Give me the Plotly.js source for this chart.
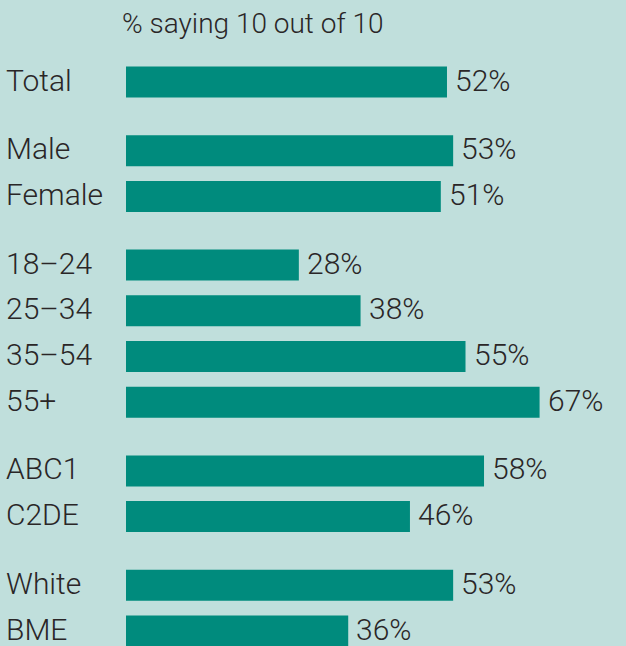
<!DOCTYPE html>
<html>
<head>
<meta charset="utf-8">
<script src="https://cdn.plot.ly/plotly-3.0.1.min.js"></script>
<style>html,body{margin:0;padding:0;background:#c0dfdc;}#chart{width:626px;height:646px;}</style>
</head>
<body>
<div id="chart"></div>
<script>
// Data
var categories = ['Total', 'Male', 'Female', '18–24', '25–34', '35–54', '55+', 'ABC1', 'C2DE', 'White', 'BME'];
var groups     = [0, 1, 1, 2, 2, 2, 2, 3, 3, 4, 4];
var values     = [52, 53, 51, 28, 38, 55, 67, 58, 46, 53, 36];
var titleText  = '% saying 10 out of 10';

// Layout helpers (row spacing with extra gap between groups)
var ROW = 45.7, GROUP_GAP = 23;
var pos = categories.map(function (c, i) { return i * ROW + groups[i] * GROUP_GAP; });

var FONT = 'Roboto, "Liberation Sans", Arial, sans-serif';
var TXT = '#2a2627';

var trace = {
  type: 'bar',
  orientation: 'h',
  y: pos,
  x: values,
  width: 31,
  marker: { color: '#008b7d', line: { width: 0 } },
  cliponaxis: false,
  hoverinfo: 'skip'
};

var annotations = categories.map(function (c, i) {
  return {
    text: c,
    xref: 'paper', yref: 'y',
    x: (4 - 126) / 500, y: pos[i], yshift: 2,
    xanchor: 'left', yanchor: 'middle',
    showarrow: false,
    font: { family: FONT, size: 30, weight: 300, color: TXT }
  };
}).concat(values.map(function (v, i) {
  return {
    text: v + '%',
    xref: 'x', yref: 'y',
    x: v, y: pos[i], xshift: 6, yshift: 2,
    xanchor: 'left', yanchor: 'middle',
    showarrow: false,
    font: { family: FONT, size: 30, weight: 300, color: TXT }
  };
}));

var layout = {
  width: 626, height: 646,
  margin: { l: 126, r: 0, t: 0, b: 0, pad: 0 },
  paper_bgcolor: '#c0dfdc',
  plot_bgcolor: '#c0dfdc',
  showlegend: false,
  title: {
    text: titleText,
    xref: 'container', yref: 'container',
    x: 122 / 626, xanchor: 'left',
    y: 1 - 23 / 646, yanchor: 'middle',
    font: { family: FONT, size: 28, weight: 300, color: TXT }
  },
  xaxis: { range: [0, 81], visible: false, fixedrange: true },
  yaxis: { range: [564, -82], visible: false, fixedrange: true },
  annotations: annotations
};

Plotly.newPlot('chart', [trace], layout, { displayModeBar: false, staticPlot: true });
</script>
</body>
</html>
